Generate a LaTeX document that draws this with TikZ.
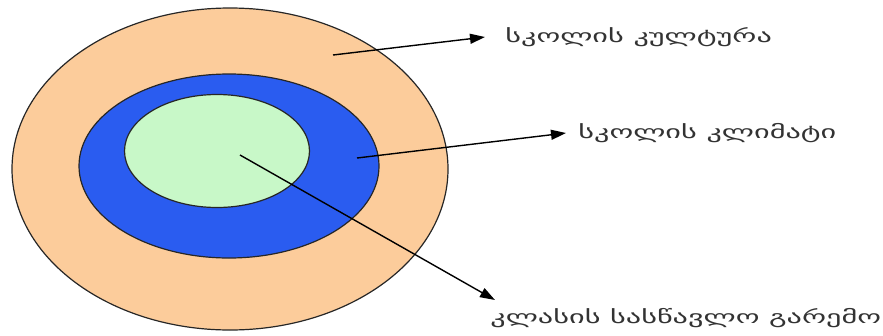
\documentclass[tikz,border=0pt]{standalone}
\usepackage{fontspec}
\newfontfamily\geofont[Script=Georgian]{DejaVu Sans}
\usetikzlibrary{shapes.geometric,arrows.meta}
\definecolor{peach}{RGB}{252,204,155}
\definecolor{ringblue}{RGB}{42,92,240}
\definecolor{palegreen}{RGB}{200,248,200}
\begin{document}
\begin{tikzpicture}[x=1pt,y=-1pt,
  ring/.style={ellipse,draw=black!85,line width=1.2pt,inner sep=0pt},
  lbl/.style={anchor=west,inner sep=0pt,xscale=1.68,font=\geofont\fontsize{18}{20}\selectfont,text=black!80},
  pointer/.style={line width=1.4pt,-{Triangle[length=15pt,width=10pt]}}]
\useasboundingbox (0,0) rectangle (883,335);
\node[ring,fill=peach,minimum width=436pt,minimum height=322pt] (outer) at (230,169) {};
\node[ring,fill=ringblue,minimum width=300pt,minimum height=184pt] (mid) at (229,166) {};
\node[ring,fill=palegreen,minimum width=185pt,minimum height=113pt] (inner) at (217,151) {};
\node[lbl] (l1) at (505,37) {სკოლის კულტურა};
\node[lbl] (l2) at (578,133) {სკოლის კლიმატი};
\node[lbl] (l3) at (490,318) {კლასის სასწავლო გარემო};
\coordinate (t1) at (333,55);
\coordinate (t2) at (357,158);
\coordinate (t3) at (240,155);
\draw[pointer] (t1) -- ([xshift=-20pt]l1.west);
\draw[pointer] (t2) -- ([xshift=-12pt]l2.west);
\draw[pointer] (t3) -- (495,300) coordinate (h3);
\end{tikzpicture}
\end{document}
